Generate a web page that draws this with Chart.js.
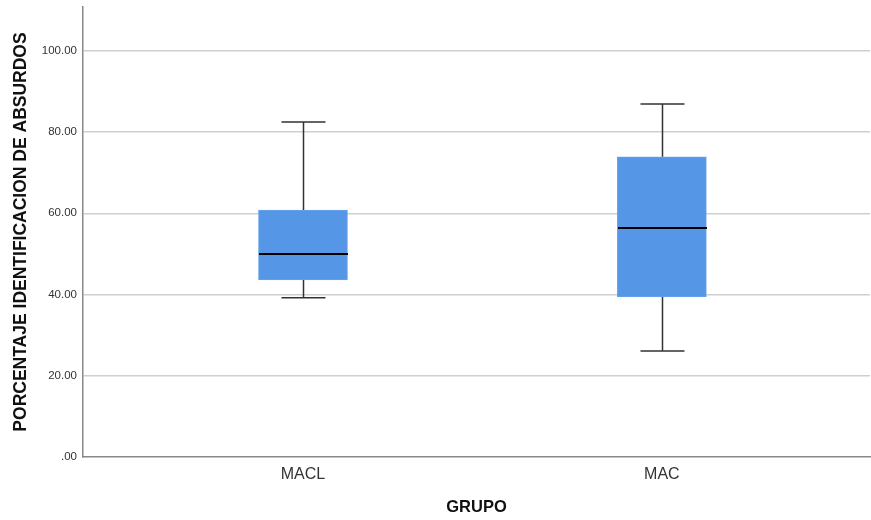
<!DOCTYPE html>
<html>
<head>
<meta charset="utf-8">
<script src="https://cdn.jsdelivr.net/npm/chart.js@4"></script>
<style>
  html, body { margin: 0; padding: 0; background: #fff; }
  #wrap { width: 871px; height: 520px; }
</style>
</head>
<body>
<div id="wrap"><canvas id="box"></canvas></div>
<script>
const groups = ['MACL', 'MAC']
const whiskerLow = [39.2, 26.1]
const q1 = [43.6, 39.4]
const median = [50.0, 56.4]
const q3 = [60.8, 73.9]
const whiskerHigh = [82.5, 86.9]
const yTicks = [0, 20, 40, 60, 80, 100]

const font = 'Liberation Sans, Arial, sans-serif'

// whiskers + median line on top of the floating bars
const boxExtras = {
  id: 'boxExtras',
  afterDatasetsDraw( chart ) {
    const { ctx, scales: { x, y } } = chart
    ctx.save()
    groups.forEach( ( g, i ) => {
      const cx = Math.round( x.getPixelForValue( i + 1 ) ) + 0.5
      const capHalf = 22
      const boxHalf = 44.5
      ctx.strokeStyle = '#333'
      ctx.lineWidth = 1.5
      ctx.beginPath()
      ctx.moveTo( cx, y.getPixelForValue( q3[i] ) )
      ctx.lineTo( cx, y.getPixelForValue( whiskerHigh[i] ) )
      ctx.moveTo( cx, y.getPixelForValue( q1[i] ) )
      ctx.lineTo( cx, y.getPixelForValue( whiskerLow[i] ) )
      ctx.moveTo( cx - capHalf, y.getPixelForValue( whiskerHigh[i] ) )
      ctx.lineTo( cx + capHalf, y.getPixelForValue( whiskerHigh[i] ) )
      ctx.moveTo( cx - capHalf, y.getPixelForValue( whiskerLow[i] ) )
      ctx.lineTo( cx + capHalf, y.getPixelForValue( whiskerLow[i] ) )
      ctx.stroke()
      ctx.strokeStyle = '#000'
      ctx.lineWidth = 2
      ctx.beginPath()
      ctx.moveTo( cx - boxHalf, y.getPixelForValue( median[i] ) )
      ctx.lineTo( cx + boxHalf, y.getPixelForValue( median[i] ) )
      ctx.stroke()
    } )
    ctx.restore()
  }
}

new Chart( document.getElementById( 'box' ), {
  type: 'bar',
  data: {
    datasets: [ {
      data: groups.map( ( g, i ) => ( { x: i + 1, y: [ q1[i], q3[i] ] } ) ),
      backgroundColor: '#5596e6',
      borderColor: '#6aa3ea',
      borderWidth: 1,
      borderSkipped: false,
      barThickness: 89,
      grouped: false,
    } ],
  },
  options: {
    responsive: true,
    maintainAspectRatio: false,
    animation: false,
    layout: { padding: { top: 7, right: 1, left: 0, bottom: 0 } },
    plugins: {
      legend: { display: false },
      tooltip: { enabled: false },
    },
    scales: {
      x: {
        type: 'linear',
        offset: false,
        min: 0.387,
        max: 2.58,
        afterBuildTicks: ( s ) => { s.ticks = groups.map( ( g, i ) => ( { value: i + 1 } ) ) },
        afterFit: ( s ) => { s.height = 63; s.paddingLeft = 0; s.paddingRight = 0 },
        ticks: {
          callback: ( v ) => groups[v - 1],
          color: '#333',
          font: { family: font, size: 16 },
          padding: 8,
        },
        grid: { display: false, drawTicks: false },
        border: { color: '#888', width: 1.5 },
        title: {
          display: true,
          text: 'GRUPO',
          color: '#111',
          font: { family: font, size: 16.5, weight: 'bold' },
          padding: { top: 0, bottom: 3 },
        },
      },
      y: {
        min: 0,
        max: 110.8,
        afterBuildTicks: ( s ) => { s.ticks = yTicks.map( ( v ) => ( { value: v } ) ) },
        afterFit: ( s ) => { s.width = 83; s.paddingTop = 0; s.paddingBottom = 0 },
        ticks: {
          callback: ( v ) => v === 0 ? '.00' : v.toFixed( 2 ),
          color: '#333',
          font: { family: font, size: 11.5 },
          padding: 6,
        },
        grid: {
          drawTicks: false,
          color: ( c ) => c.tick && c.tick.value === 0 ? 'rgba(0,0,0,0)' : '#cfcfcf',
          lineWidth: 1.5,
        },
        border: { color: '#888', width: 1.5 },
        title: {
          display: true,
          text: 'PORCENTAJE IDENTIFICACION DE ABSURDOS',
          color: '#111',
          font: { family: font, size: 17.5, weight: 'bold' },
          padding: { top: 11, bottom: 0 },
        },
      },
    },
  },
  plugins: [ boxExtras ],
} )
</script>
</body>
</html>
